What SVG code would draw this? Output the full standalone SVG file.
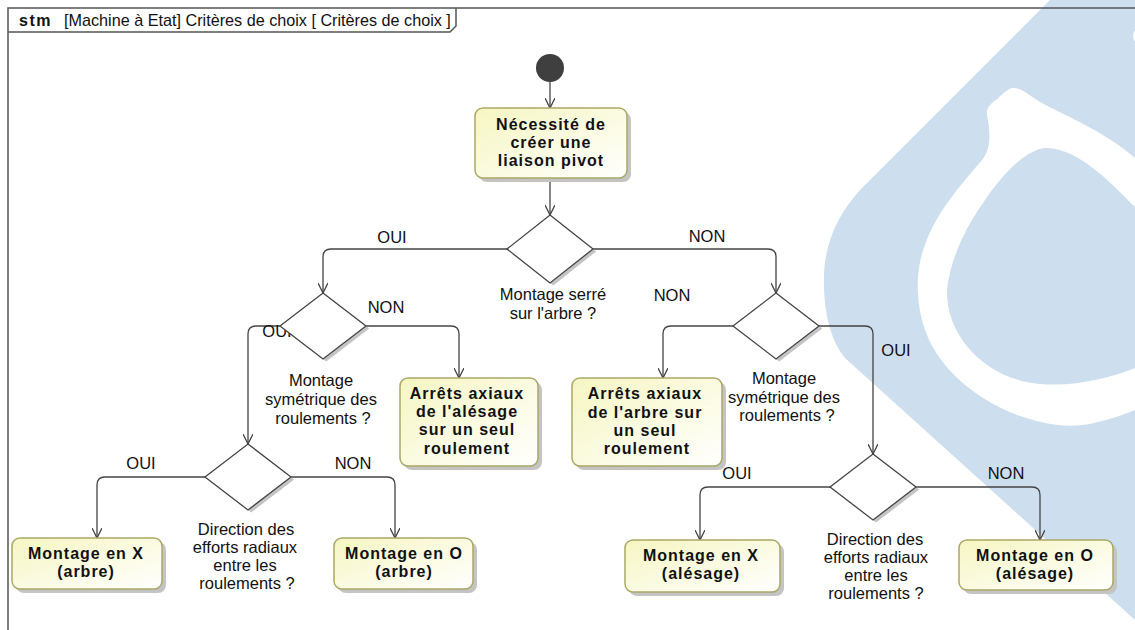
<svg xmlns="http://www.w3.org/2000/svg" width="1135" height="630" viewBox="0 0 1135 630">
<style>
.lbl{font-family:"Liberation Sans",Arial,sans-serif;font-size:16.5px;fill:#111;text-anchor:middle}
.bt{font-family:"Liberation Sans",Arial,sans-serif;font-size:16px;font-weight:bold;letter-spacing:1px;fill:#111;text-anchor:middle}
.box{fill:url(#yg);stroke:#aaa866;stroke-width:1.5}
.shd{fill:#c4c4c4}
.dia{fill:#fff;stroke:#444;stroke-width:1.3}
.con{fill:none;stroke:#444;stroke-width:1.3;marker-end:url(#arr)}
.frame{fill:none;stroke:#555;stroke-width:1.5}
</style>
<defs>
<linearGradient id="yg" x1="0" y1="0" x2="1" y2="1">
<stop offset="0" stop-color="#f6f6c2"/>
<stop offset="1" stop-color="#ffffff"/>
</linearGradient>
<marker id="arr" viewBox="0 0 10 10" refX="10" refY="5" markerWidth="10" markerHeight="10" orient="auto" markerUnits="userSpaceOnUse">
<path d="M0,0 L10,5 L0,10" fill="none" stroke="#444" stroke-width="1.3"/>
</marker>
</defs>
<rect width="1135" height="630" fill="#fff"/>
<g id="watermark">
<path d="M1050,0 L860,190 C840,212 825,240 824,275 C823,310 830,340 845,358 L1135,620 L1135,0 Z" fill="#cddfee"/>
<path d="M1013,88 C1022,88 1030,96 1040,102 C1070,118 1105,132 1135,158 L1135,410 C1105,422 1080,428 1058,425 C1000,418 945,380 927,335 C915,305 915,270 925,245 C935,215 958,188 982,160 C992,148 990,130 987,115 C986,108 990,104 996,100 C1003,94 1008,88 1013,88 Z" fill="#fff"/>
<path d="M1135,207 C1110,182 1080,150 1048,148 C1030,147 1005,170 985,200 C965,228 950,260 947,290 C946,340 990,380 1040,384 C1075,387 1110,378 1135,368 Z" fill="#cddfee"/>
<ellipse cx="1140" cy="36" rx="7" ry="8" fill="#fff"/>
</g>
<g id="frame">
<path class="frame" d="M8,630 V8 H1135"/>
<path class="frame" d="M8,32 H450 L456,26 V8"/>
<text x="19" y="26" style="font-family:'Liberation Sans',Arial,sans-serif;font-size:16px;font-weight:bold;letter-spacing:1.5px;fill:#111">stm</text>
<text x="64" y="26" style="font-family:'Liberation Sans',Arial,sans-serif;font-size:16.2px;fill:#111">[Machine à Etat] Critères de choix [ Critères de choix ]</text>
</g>
<g id="connectors">
<path class="con" d="M550,82 V108"/>
<path class="con" d="M550,178 V215"/>
<path class="con" d="M507,249 H331 Q323,249 323,257 V293"/>
<path class="con" d="M593,249 H768 Q776,249 776,257 V293"/>
<path class="con" d="M280,326 H256 Q248,326 248,334 V444"/>
<path class="con" d="M366,326 H451 Q459,326 459,334 V378"/>
<path class="con" d="M733,326 H671 Q663,326 663,334 V378"/>
<path class="con" d="M819,326 H865 Q873,326 873,334 V454"/>
<path class="con" d="M205,477 H105 Q97,477 97,485 V538"/>
<path class="con" d="M291,477 H387 Q395,477 395,485 V538"/>
<path class="con" d="M830,487 H708 Q700,487 700,495 V540"/>
<path class="con" d="M916,487 H1032 Q1040,487 1040,495 V540"/>
<text class="lbl" x="392" y="243">OUI</text>
<text class="lbl" x="707" y="242">NON</text>
<text class="lbl" x="386" y="313">NON</text>
<text class="lbl" x="277" y="337">OUI</text>
<text class="lbl" x="672" y="301">NON</text>
<text class="lbl" x="896" y="356">OUI</text>
<text class="lbl" x="141" y="469">OUI</text>
<text class="lbl" x="353" y="469">NON</text>
<text class="lbl" x="737" y="479">OUI</text>
<text class="lbl" x="1006" y="479">NON</text>
</g>
<g id="initial">
<circle cx="550" cy="68" r="14" fill="#3f3f3f"/>
</g>
<g id="n_besoin">
<rect class="shd" x="479" y="112" width="152" height="70" rx="8"/>
<rect class="box" x="475" y="108" width="152" height="70" rx="8"/>
<text class="bt" x="551" y="130">Nécessité de</text>
<text class="bt" x="551" y="148">créer une</text>
<text class="bt" x="551" y="166">liaison pivot</text>
</g>
<g id="d_serre">
<polygon class="shd" points="553.2,217.4 596.2,251.4 553.2,285.4 510.2,251.4"/>
<polygon class="dia" points="550,215 593,249 550,283 507,249"/>
<text class="lbl" x="553" y="300">Montage serré</text>
<text class="lbl" x="553" y="319">sur l'arbre ?</text>
</g>
<g id="d_sym1">
<polygon class="shd" points="326.2,295.4 369.2,328.4 326.2,361.4 283.2,328.4"/>
<polygon class="dia" points="323,293 366,326 323,359 280,326"/>
<text class="lbl" x="321" y="386">Montage</text>
<text class="lbl" x="321" y="405">symétrique des</text>
<text class="lbl" x="323" y="424">roulements ?</text>
</g>
<g id="d_sym2">
<polygon class="shd" points="779.2,295.4 822.2,328.4 779.2,361.4 736.2,328.4"/>
<polygon class="dia" points="776,293 819,326 776,359 733,326"/>
<text class="lbl" x="784" y="384">Montage</text>
<text class="lbl" x="784" y="403">symétrique des</text>
<text class="lbl" x="787" y="421">roulements ?</text>
</g>
<g id="n_arret_alesage">
<rect class="shd" x="404" y="382" width="138" height="88" rx="8"/>
<rect class="box" x="400" y="378" width="138" height="88" rx="8"/>
<text class="bt" x="467" y="399">Arrêts axiaux</text>
<text class="bt" x="467" y="417">de l'alésage</text>
<text class="bt" x="467" y="435">sur un seul</text>
<text class="bt" x="467" y="454">roulement</text>
</g>
<g id="n_arret_arbre">
<rect class="shd" x="576" y="382" width="150" height="88" rx="8"/>
<rect class="box" x="572" y="378" width="150" height="88" rx="8"/>
<text class="bt" x="645" y="399">Arrêts axiaux</text>
<text class="bt" x="645" y="418">de l'arbre sur</text>
<text class="bt" x="645" y="436">un seul</text>
<text class="bt" x="647" y="454">roulement</text>
</g>
<g id="d_dir1">
<polygon class="shd" points="251.2,446.4 294.2,479.4 251.2,512.4 208.2,479.4"/>
<polygon class="dia" points="248,444 291,477 248,510 205,477"/>
<text class="lbl" x="246" y="535">Direction des</text>
<text class="lbl" x="245" y="553">efforts radiaux</text>
<text class="lbl" x="245" y="571">entre les</text>
<text class="lbl" x="247" y="589">roulements ?</text>
</g>
<g id="d_dir2">
<polygon class="shd" points="876.2,456.4 919.2,489.4 876.2,522.4 833.2,489.4"/>
<polygon class="dia" points="873,454 916,487 873,520 830,487"/>
<text class="lbl" x="875" y="545">Direction des</text>
<text class="lbl" x="876" y="563">efforts radiaux</text>
<text class="lbl" x="876" y="581">entre les</text>
<text class="lbl" x="876" y="599">roulements ?</text>
</g>
<g id="n_x_arbre">
<rect class="shd" x="16" y="542" width="150" height="51" rx="8"/>
<rect class="box" x="12" y="538" width="150" height="51" rx="8"/>
<text class="bt" x="86" y="559">Montage en X</text>
<text class="bt" x="86" y="577">(arbre)</text>
</g>
<g id="n_o_arbre">
<rect class="shd" x="338" y="542" width="139" height="51" rx="8"/>
<rect class="box" x="334" y="538" width="139" height="51" rx="8"/>
<text class="bt" x="404" y="559">Montage en O</text>
<text class="bt" x="404" y="577">(arbre)</text>
</g>
<g id="n_x_alesage">
<rect class="shd" x="629" y="544" width="155" height="52" rx="8"/>
<rect class="box" x="625" y="540" width="155" height="52" rx="8"/>
<text class="bt" x="701" y="561">Montage en X</text>
<text class="bt" x="701" y="579">(alésage)</text>
</g>
<g id="n_o_alesage">
<rect class="shd" x="963" y="544" width="154" height="50" rx="8"/>
<rect class="box" x="959" y="540" width="154" height="50" rx="8"/>
<text class="bt" x="1035" y="561">Montage en O</text>
<text class="bt" x="1035" y="579">(alésage)</text>
</g>
</svg>
